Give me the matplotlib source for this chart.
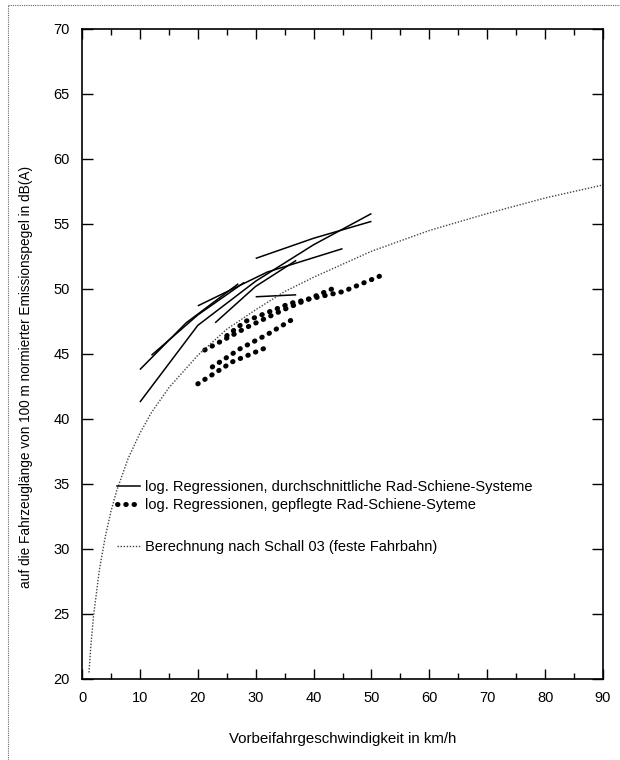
import matplotlib
matplotlib.use('Agg')
import matplotlib.pyplot as plt
from matplotlib.lines import Line2D
from matplotlib.ticker import MultipleLocator

plt.rcParams['font.family'] = ['Liberation Sans', 'DejaVu Sans']

# log. Regressionen, durchschnittliche Rad-Schiene-Systeme (solid)
solid_lines = [
    ([10, 20, 30, 40, 50], [41.3, 47.2, 50.6, 53.4, 55.8]),
    ([10, 18, 27], [43.8, 47.4, 50.4]),
    ([12, 20, 28], [44.9, 48.0, 50.5]),
    ([20, 32, 45], [48.7, 51.3, 53.1]),
    ([23, 30, 37], [47.4, 50.2, 52.2]),
    ([30, 40, 50], [52.35, 53.9, 55.2]),
    ([30, 37], [49.4, 49.55]),
]

# log. Regressionen, gepflegte Rad-Schiene-Syteme (thick dots)
dotted_lines = [
    ([20, 26, 32.4], [42.7, 44.4, 45.6]),
    ([22.5, 27.3, 32, 36.5], [44.0, 45.4, 46.5, 47.7]),
    ([21.2, 28.7, 34.8, 43.7], [45.3, 47.1, 48.4, 50.1]),
    ([25, 28.2, 36, 45.1, 51.5], [46.4, 47.5, 48.9, 49.8, 51.0]),
]

# Berechnung nach Schall 03 (feste Fahrbahn)
schall_v = [1.2, 1.5, 2, 3, 4, 5, 6, 8, 10, 12, 15, 20, 25, 30, 35, 40, 50, 60, 70, 80, 90]
schall_l = [20.5, 22.4, 24.9, 28.4, 30.9, 32.9, 34.5, 37.0, 38.9, 40.5, 42.4, 44.9,
            46.9, 48.4, 49.8, 50.9, 52.9, 54.5, 55.8, 57.0, 58.0]

legend_labels = ['log. Regressionen, durchschnittliche Rad-Schiene-Systeme',
                 'log. Regressionen, gepflegte Rad-Schiene-Syteme',
                 'Berechnung nach Schall 03 (feste Fahrbahn)']

dot_style = dict(color='black', lw=3.6, linestyle=(0, (0.1, 1.55)),
                 dash_capstyle='round')
schall_style = dict(color='#444444', lw=1.0, linestyle=(0, (1, 1.2)))

fig = plt.figure(figsize=(6.2, 7.6), dpi=100)
ax = fig.add_axes([0.1323, 0.1066, 0.8403, 0.8553])

for xs, ys in solid_lines:
    ax.plot(xs, ys, color='black', lw=1.1, solid_capstyle='butt')
for xs, ys in dotted_lines:
    ax.plot(xs, ys, **dot_style)
ax.plot(schall_v, schall_l, **schall_style)

ax.set_xlim(0, 90)
ax.set_ylim(20, 70)
ax.xaxis.set_major_locator(MultipleLocator(10))
ax.xaxis.set_minor_locator(MultipleLocator(5))
ax.yaxis.set_major_locator(MultipleLocator(5))
ax.tick_params(axis='both', which='both', direction='in', top=True, right=True,
               labelsize=10.5, width=1.0, pad=9)
ax.tick_params(axis='x', which='major', length=7)
ax.tick_params(axis='x', which='minor', length=4)
ax.tick_params(axis='y', which='major', length=8)
for sp in ax.spines.values():
    sp.set_linewidth(1.2)

ax.set_xlabel('Vorbeifahrgeschwindigkeit in km/h', fontsize=10.8, labelpad=19)
ax.set_ylabel('auf die Fahrzeuglänge von 100 m normierter Emissionspegel in dB(A)',
              fontsize=9.8)
ax.yaxis.set_label_coords(-0.094, 0.465)

leg_kw = dict(loc='center left', frameon=False, fontsize=10.5, handlelength=1.6,
              handletextpad=0.34, borderpad=0, borderaxespad=0, labelspacing=0.25)
h_solid = Line2D([], [], color='black', lw=1.1)
h_dot = Line2D([], [], **dot_style)
h_schall = Line2D([], [], **schall_style)
leg = ax.legend([h_solid, h_dot], legend_labels[:2],
                bbox_to_anchor=(0.067, 0.2815), **leg_kw)
ax.add_artist(leg)
ax.legend([h_schall], [legend_labels[2]], bbox_to_anchor=(0.067, 0.203), **leg_kw)

# scan frame
fig.add_artist(Line2D([0.013, 0.013], [0.0, 0.993], color='#666666', lw=0.8,
                      linestyle=(0, (1, 1))))
fig.add_artist(Line2D([0.013, 1.0], [0.993, 0.993], color='#666666', lw=0.8,
                      linestyle=(0, (1, 1))))

fig.savefig('out.png', dpi=100)
